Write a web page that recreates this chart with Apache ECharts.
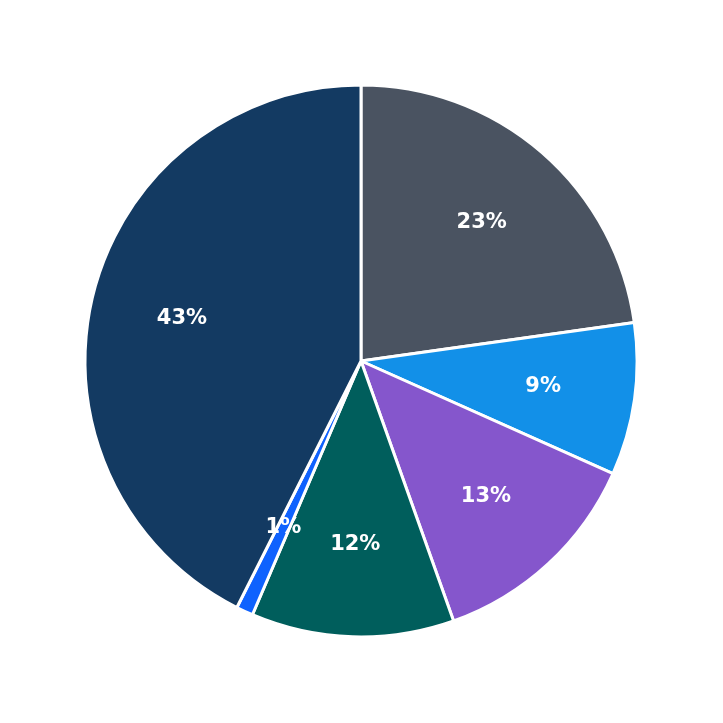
<!DOCTYPE html><html><head><meta charset="utf-8">
<script src="https://cdn.jsdelivr.net/npm/echarts@6/dist/echarts.min.js"></script>
<style>html,body{margin:0;padding:0;background:#fff}#c{width:723px;height:723px}</style></head><body><div id="c"></div>
<script>
const categories=['A','B','C','D','E','F'];
const values=[23,9,13,12,1,43];
const colors=['#4a5361','#1290e8','#8556cc','#005e5c','#0f62fe','#133a62'];
const data=categories.map((n,i)=>({name:n,value:values[i]}));
const chart=echarts.init(document.getElementById('c'));
chart.setOption({
 animation:false,
 series:[
  {type:'pie',center:[361,361],radius:[0,276],startAngle:90,clockwise:true,
   data:data.map((d,i)=>({...d,itemStyle:{color:colors[i]}})),
   itemStyle:{borderColor:'#fff',borderWidth:3},label:{show:false},labelLine:{show:false}},
  {type:'pie',center:[361,361],radius:[0,362],startAngle:90,clockwise:true,silent:true,
   data:data,itemStyle:{color:'rgba(0,0,0,0)'},labelLine:{show:false},
   label:{show:true,position:'inside',formatter:'{c}%',color:'#fff',fontWeight:'bold',fontSize:21,fontFamily:'DejaVu Sans'}}
 ]
});
</script></body></html>
